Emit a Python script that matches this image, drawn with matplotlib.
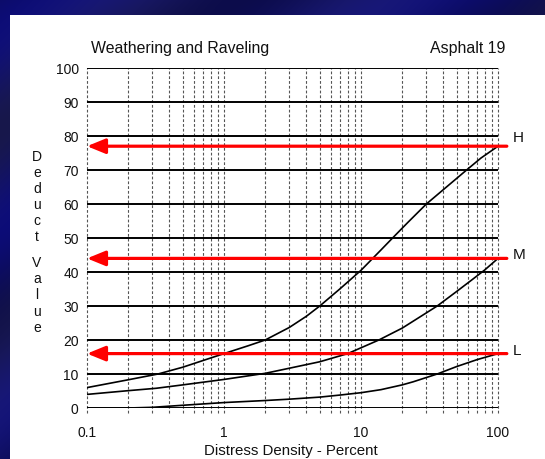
import numpy as np
import matplotlib
matplotlib.use("Agg")
import matplotlib.pyplot as plt
from matplotlib.patches import Rectangle

plt.rcParams['font.family'] = ['Liberation Sans', 'DejaVu Sans']

# ---- data ----
title_left = "Weathering and Raveling"
title_right = "Asphalt 19"
x_label = "Distress Density - Percent"
y_label_top = "Deduct"
y_label_bottom = "Value"

y_ticks = [0, 10, 20, 30, 40, 50, 60, 70, 80, 90, 100]
x_ticks = [0.1, 1, 10, 100]
x_tick_labels = ["0.1", "1", "10", "100"]

h_x = [0.1, 0.2, 0.33, 0.5, 1, 1.5, 2, 3, 4, 5, 7, 10, 14, 17, 22, 30, 45, 59, 75, 100]
h_y = [6, 8.3, 10, 12, 16, 18.3, 20, 23.7, 27, 30, 35, 40.5, 46.5, 50, 54.6, 60, 66, 70, 73.5, 77]

m_x = [0.1, 0.2, 0.32, 0.5, 1, 2, 3, 5, 8, 13.5, 20, 36, 50, 65, 80, 100]
m_y = [4, 5.1, 5.8, 6.8, 8.4, 10.2, 11.7, 13.6, 16, 20, 23.5, 30, 34.3, 37.8, 40.6, 44]

l_x = [0.1, 0.2, 0.3, 0.5, 1, 2, 3, 5, 7, 10, 14, 20, 24, 36, 50, 70, 100]
l_y = [0, 0, 0.2, 0.8, 1.6, 2.2, 2.6, 3.2, 3.8, 4.5, 5.4, 6.8, 7.7, 10, 12.2, 14.2, 16]

arrow_levels = [77, 44, 16]
arrow_labels = ["H", "M", "L"]

W, H = 545, 459
fig = plt.figure(figsize=(W / 100, H / 100), dpi=100)

# ---- background: dark navy gradient and white panel ----
bg = fig.add_axes([0, 0, 1, 1])
bg.set_axis_off()
yy, xx = np.mgrid[0:H, 0:W]
t = (xx / W)
r = 12 + 12 * np.sin(t * 7 + yy / 80.0) ** 2
g = 12 + 12 * np.sin(t * 7 + yy / 80.0) ** 2
b = 75 + 45 * np.sin(t * 5 + 1 + yy / 60.0) ** 2
img = np.dstack([r, g, b]) / 255.0
bg.imshow(img, extent=[0, 1, 0, 1], aspect='auto', zorder=0)
bg.add_patch(Rectangle((10 / W, 0), 1 - 10 / W, 1 - 15 / H, transform=bg.transAxes,
                       facecolor='white', edgecolor='none', zorder=1))
bg.set_xlim(0, 1)
bg.set_ylim(0, 1)

# ---- main axes ----
x0, x1 = 87, 498
y0, y1 = 408, 68
ax = fig.add_axes([x0 / W, (H - y0) / H, (x1 - x0) / W, (y0 - y1) / H])
ax.set_facecolor('none')
ax.set_xscale('log')
ax.set_xlim(0.1, 100)
ax.set_ylim(0, 100)
for s in ax.spines.values():
    s.set_visible(False)

# vertical dashed grid lines at every 1..9 per decade
vx = []
for dec in [0.1, 1, 10]:
    for k in range(1, 10):
        vx.append(dec * k)
vx.append(100)
for v in vx:
    ax.plot([v, v], [-1.5, 100], color='#555555', lw=0.8, dashes=(2.5, 1.8),
            clip_on=False, zorder=1)

# horizontal solid lines
for yv in y_ticks:
    ax.axhline(yv, color='black', lw=1.4, zorder=2)

# curves
for xs, ys in [(h_x, h_y), (m_x, m_y), (l_x, l_y)]:
    ax.plot(xs, ys, color='black', lw=1.2, zorder=3, solid_joinstyle='round')

# ticks
ax.set_yticks(y_ticks)
ax.set_yticklabels([str(v) for v in y_ticks])
ax.set_xticks(x_ticks)
ax.set_xticklabels(x_tick_labels)
ax.xaxis.set_minor_locator(matplotlib.ticker.NullLocator())
ax.tick_params(axis='both', length=0, labelsize=10, colors='#111111')
ax.tick_params(axis='y', pad=6)
ax.tick_params(axis='x', pad=13)

# red arrows with H/M/L labels
for lev, lab in zip(arrow_levels, arrow_labels):
    ax.annotate('', xy=(0.1, lev), xytext=(116, lev), annotation_clip=False,
                arrowprops=dict(arrowstyle='-|>,head_length=1.1,head_width=0.45',
                                color='#ff0000', lw=2.3, mutation_scale=10,
                                shrinkA=0, shrinkB=0), zorder=5)
label_y_px = {"H": 138, "M": 255, "L": 351}
for lab in arrow_labels:
    fig.text(513 / W, 1 - label_y_px[lab] / H, lab, fontsize=11, ha='left',
             va='center', color='#111111')

# titles
fig.text(91 / W, 1 - 53 / H, title_left, fontsize=11.4, ha='left', va='baseline',
         color='#111111')
fig.text(505 / W, 1 - 53 / H, title_right, fontsize=11.4, ha='right', va='baseline',
         color='#111111')

# x label
fig.text(291 / W, 1 - 451 / H, x_label, fontsize=10.8, ha='center', va='center',
         color='#111111')

# stacked y label
ypos = 157
for ch in y_label_top:
    fig.text(37 / W, 1 - ypos / H, ch, fontsize=10, ha='center', va='center',
             color='#111111')
    ypos += 16
ypos = 263
for ch in y_label_bottom:
    fig.text(37 / W, 1 - ypos / H, ch, fontsize=10, ha='center', va='center',
             color='#111111')
    ypos += 16.2

fig.savefig('out.png', dpi=100)
